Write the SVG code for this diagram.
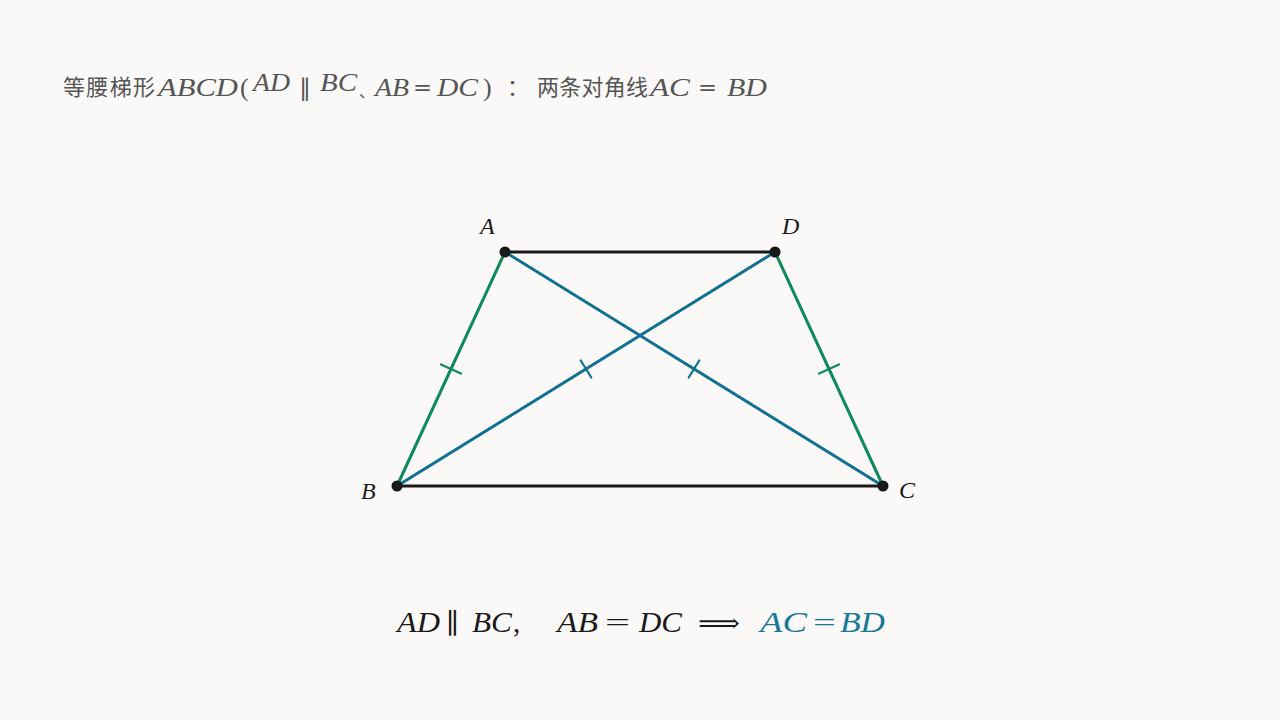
<svg xmlns="http://www.w3.org/2000/svg" width="1280" height="720" viewBox="0 0 1280 720">
<style>
.bg{fill:#faf9f7}
.cjk{font-family:"Noto Sans CJK SC","Noto Sans",sans-serif;fill:#555555;font-size:22px;font-style:normal}
.mt{font-family:"Liberation Serif","DejaVu Serif",serif;font-style:italic;fill:#555555;font-size:26px}
.mu{font-family:"Liberation Serif","DejaVu Serif",serif;fill:#555555;font-size:26px}
.par{font-family:"DejaVu Sans",sans-serif;font-weight:normal}
.lbl{font-family:"Liberation Serif","DejaVu Serif",serif;font-style:italic;fill:#1a1a1a;font-size:24px}
.eq{font-family:"Liberation Serif","DejaVu Serif",serif;font-style:italic;fill:#1a1a1a;font-size:29px}
.equ{font-family:"Liberation Serif","DejaVu Serif",serif;fill:#1a1a1a;font-size:29px}
.blue{fill:#17789a}
.side{stroke:#0d8a5c;stroke-width:3;fill:none;stroke-linecap:round}
.diag{stroke:#106f94;stroke-width:3;fill:none;stroke-linecap:round}
.base{stroke:#1a1a1a;stroke-width:3;fill:none}
.tick{stroke-width:2.2}
.dot{fill:#1a1a1a}
</style>
<rect class="bg" x="0" y="0" width="1280" height="720"/>
<g id="title">
<text class="cjk" x="63" y="95" textLength="92">等腰梯形</text>
<text class="mt" x="158" y="96" textLength="80" lengthAdjust="spacingAndGlyphs">ABCD</text>
<text class="mu" x="240" y="96">(</text>
<text class="mt" x="253" y="91" textLength="37" lengthAdjust="spacingAndGlyphs">AD</text>
<text class="mu par" x="299" y="96" style="font-size:24px">∥</text>
<text class="mt" x="320" y="91" textLength="37" lengthAdjust="spacingAndGlyphs">BC</text>
<text class="cjk" x="359" y="97" style="font-size:16px">、</text>
<text class="mt" x="375" y="96" textLength="34" lengthAdjust="spacingAndGlyphs">AB</text>
<text class="mu par" x="413" y="95" style="font-size:22px" textLength="19" lengthAdjust="spacingAndGlyphs">=</text>
<text class="mt" x="437" y="96" textLength="41" lengthAdjust="spacingAndGlyphs">DC</text>
<text class="mu" x="483" y="96">)</text>
<text class="cjk" x="507" y="95">：</text>
<text class="cjk" x="537" y="95" textLength="111">两条对角线</text>
<text class="mt" x="650" y="96" textLength="40" lengthAdjust="spacingAndGlyphs">AC</text>
<text class="mu par" x="698" y="95" style="font-size:22px" textLength="19" lengthAdjust="spacingAndGlyphs">=</text>
<text class="mt" x="727" y="96" textLength="40" lengthAdjust="spacingAndGlyphs">BD</text>
</g>
<g id="connectors">
<line id="AB" class="side" x1="505" y1="252" x2="397" y2="486"/>
<line id="DC" class="side" x1="775" y1="252" x2="883" y2="486"/>
<line id="AC" class="diag" x1="505" y1="252" x2="883" y2="486"/>
<line id="BD" class="diag" x1="397" y1="486" x2="775" y2="252"/>
<line id="AD" class="base" x1="505" y1="252" x2="775" y2="252"/>
<line id="BC" class="base" x1="397" y1="486" x2="883" y2="486"/>
<line class="side tick" x1="441" y1="364.4" x2="461" y2="373.6"/>
<line class="side tick" x1="819" y1="373.6" x2="839" y2="364.4"/>
<line class="diag tick" x1="580.7" y1="360.5" x2="591.3" y2="377.5"/>
<line class="diag tick" x1="699.3" y1="360.5" x2="688.7" y2="377.5"/>
</g>
<g id="node-A"><circle class="dot" cx="505" cy="252" r="5.5"/><text class="lbl" x="480" y="234">A</text></g>
<g id="node-D"><circle class="dot" cx="775" cy="252" r="5.5"/><text class="lbl" x="782" y="234">D</text></g>
<g id="node-B"><circle class="dot" cx="397" cy="486" r="5.5"/><text class="lbl" x="361" y="499">B</text></g>
<g id="node-C"><circle class="dot" cx="883" cy="486" r="5.5"/><text class="lbl" x="899" y="498">C</text></g>
<g id="equation">
<text class="eq" x="397" y="632" textLength="43" lengthAdjust="spacingAndGlyphs">AD</text>
<text class="equ par" x="446" y="633" style="font-size:28px">∥</text>
<text class="eq" x="472" y="632" textLength="40" lengthAdjust="spacingAndGlyphs">BC</text>
<text class="equ" x="513" y="632">,</text>
<text class="eq" x="557" y="632" textLength="41" lengthAdjust="spacingAndGlyphs">AB</text>
<text class="equ par" x="605" y="631" style="font-size:26px" textLength="25" lengthAdjust="spacingAndGlyphs">=</text>
<text class="eq" x="639" y="632" textLength="43" lengthAdjust="spacingAndGlyphs">DC</text>
<text class="equ par" x="698" y="632" textLength="42" lengthAdjust="spacingAndGlyphs" style="font-size:26px">⟹</text>
<text class="eq blue" x="760" y="632" textLength="47" lengthAdjust="spacingAndGlyphs">AC</text>
<text class="equ par blue" x="813" y="631" style="font-size:26px" textLength="23" lengthAdjust="spacingAndGlyphs">=</text>
<text class="eq blue" x="840" y="632" textLength="45" lengthAdjust="spacingAndGlyphs">BD</text>
</g>
</svg>
